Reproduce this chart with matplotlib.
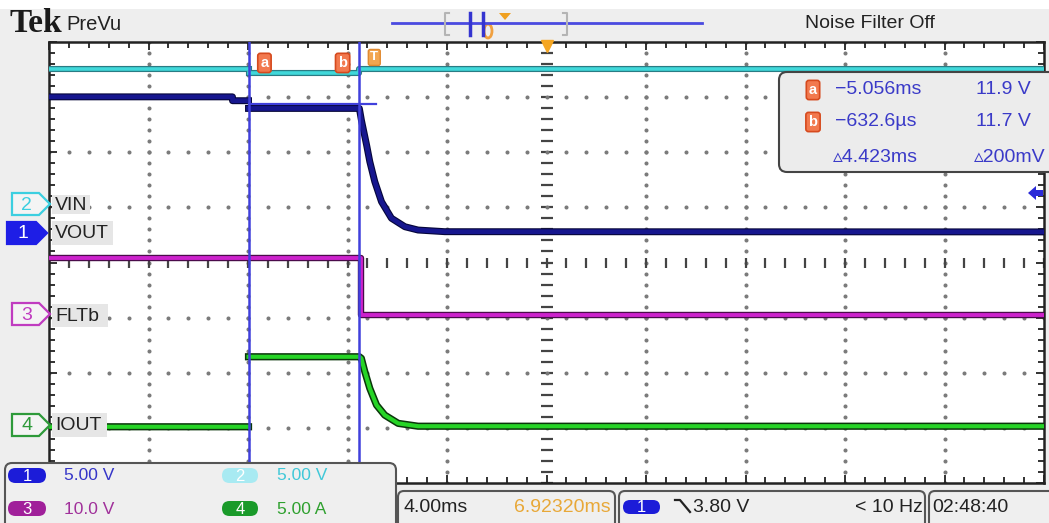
import matplotlib
matplotlib.use("Agg")
import matplotlib.pyplot as plt
import matplotlib.patheffects as pe
from matplotlib.patches import Polygon, FancyBboxPatch, Rectangle, Ellipse

W, H = 1049, 523
SANS = ['Liberation Sans', 'DejaVu Sans']
plt.rcParams['font.family'] = SANS

nan = float('nan')

# scope settings
t_per_div = 4.0        # ms/div
t_center = 6.9232      # ms, screen centre relative to trigger
cursor_a = -5.056      # ms
cursor_b = -0.6326     # ms
cursor_level = 11.7    # V on ch1

# volts (amps) per div and ground marker position in div from centre
vin_scale, vin_gnd = 5.0, 1.06
vout_scale, vout_gnd = 5.0, 0.535
flt_scale, flt_gnd = 10.0, -0.935
iout_scale, iout_gnd = 5.0, -2.95

# traces: time in ms, value in V or A (nan = gap in the record)
vin_t = [-13.1, -5.056, -5.056, -5.056, -0.63, -0.63, 26.95]
vin_v = [12.25, 12.25, nan, 11.9, 11.9, 12.25, 12.25]

vout_t = [-13.1, -5.7, -5.7, -5.056, -5.056, -5.056, -0.6, -0.52, -0.45, -0.31, -0.18,
          0.02, 0.29, 0.69, 1.23, 1.76, 2.84, 26.95]
vout_v = [12.35, 12.35, 12.0, 12.0, nan, 11.3, 11.3, 10.26, 9.5, 7.99, 6.47,
          4.66, 2.84, 1.34, 0.57, 0.27, 0.12, 0.1]

flt_t = [-13.1, -5.056, -5.056, -0.54, -0.54, 26.95]
flt_v = [10.2, 10.2, 10.1, 10.1, -0.2, -0.2]

iout_t = [-13.1, -5.056, -5.056, -5.056, -0.6, -0.52, -0.38, -0.18, 0.09, 0.42, 0.96, 1.76, 26.95]
iout_v = [-0.15, -0.15, nan, 6.2, 6.2, 6.06, 4.84, 3.33, 1.82, 0.91, 0.16, -0.1, -0.1]


def to_div(vals, scale, gnd):
    return [v / scale + gnd for v in vals]


def px_rect(x0, y0, x1, y1):
    return [x0 / W, 1 - y1 / H, (x1 - x0) / W, (y1 - y0) / H]


fig = plt.figure(figsize=(W / 100, H / 100), dpi=100, facecolor='#eeeeee')

# ---- graticule ----
ax = fig.add_axes(px_rect(49, 42, 1044, 483))
ax.set_facecolor('white')
x_lo = t_center - 5 * t_per_div
x_hi = t_center + 5 * t_per_div
ax.set_xlim(x_lo, x_hi)
ax.set_ylim(-4, 4)

major_x = [x_lo + k * t_per_div for k in range(11)]
minor_x = [x_lo + k * t_per_div / 5 for k in range(51)]
major_y = list(range(-4, 5))
minor_y = [-4 + k * 0.2 for k in range(41)]

for k in range(1, 10):
    if k == 5:
        ax.plot([major_x[k]] * len(minor_y), minor_y, ls='none', marker='_',
                ms=8, mew=1.6, color='#444444', zorder=1)
    else:
        ax.plot([major_x[k]] * len(minor_y), minor_y, ls='none', marker='o',
                ms=1.9, color='#7a7a7a', zorder=1)
for yv in major_y[1:-1]:
    if yv == 0:
        ax.plot(minor_x, [0] * len(minor_x), ls='none', marker='|',
                ms=7, mew=1.6, color='#444444', zorder=1)
    else:
        ax.plot(minor_x, [yv] * len(minor_x), ls='none', marker='o',
                ms=1.9, color='#7a7a7a', zorder=1)

ax.set_xticks(major_x)
ax.set_xticks(minor_x, minor=True)
ax.set_yticks(major_y)
ax.set_yticks(minor_y, minor=True)
ax.tick_params(which='both', direction='in', top=True, right=True,
               labelbottom=False, labelleft=False, color='#222222', width=1.3)
ax.tick_params(which='major', length=6)
ax.tick_params(which='minor', length=4)
for sp in ax.spines.values():
    sp.set_linewidth(1.8)
    sp.set_color('#222222')

# ---- waveforms ----
ax.plot(vin_t, to_div(vin_v, vin_scale, vin_gnd), color='#40d8da', lw=2.6, zorder=4,
        path_effects=[pe.Stroke(linewidth=4.4, foreground='#2a7c84'), pe.Normal()])
ax.plot(vout_t, to_div(vout_v, vout_scale, vout_gnd), color='#16168e', lw=3.4, zorder=4,
        path_effects=[pe.Stroke(linewidth=5.0, foreground='#06063a'), pe.Normal()])
ax.plot(flt_t, to_div(flt_v, flt_scale, flt_gnd), color='#cc22cc', lw=2.8, zorder=4,
        path_effects=[pe.Stroke(linewidth=4.6, foreground='#4a0c4a'), pe.Normal()])
ax.plot(iout_t, to_div(iout_v, iout_scale, iout_gnd), color='#26d426', lw=3.0, zorder=4,
        path_effects=[pe.Stroke(linewidth=5.2, foreground='#0a360a'), pe.Normal()])

# cursors
cur_col = '#4040dc'
ax.axvline(cursor_a, color=cur_col, lw=1.8, zorder=5)
ax.axvline(cursor_b, color=cur_col, lw=1.8, zorder=5)
lvl = cursor_level / vout_scale + vout_gnd
ax.plot([cursor_a, cursor_b + 0.72], [lvl, lvl], color=cur_col, lw=1.6, zorder=5)

badge = dict(boxstyle='round,pad=0.18', fc='#f2794e', ec='#d64a1e', lw=1.2)
ax.text(cursor_a + 0.64, 3.62, 'a', color='white', fontsize=10.5, fontweight='bold',
        ha='center', va='center', bbox=badge, zorder=6)
ax.text(cursor_b - 0.64, 3.62, 'b', color='white', fontsize=10.5, fontweight='bold',
        ha='center', va='center', bbox=badge, zorder=6)
ax.text(0.0, 3.72, 'T', color='white', fontsize=9.5, fontweight='bold', ha='center', va='center',
        bbox=dict(boxstyle='round,pad=0.15', fc='#f2a650', ec='#e08a30', lw=1), zorder=6)
ax.plot([t_center], [3.93], marker='v', ms=9, color='#f5a623', ls='none', zorder=6, clip_on=False)

# ---- screen chrome (pixel coordinates) ----
ov = fig.add_axes([0, 0, 1, 1], zorder=10)
ov.set_xlim(0, W)
ov.set_ylim(H, 0)
ov.axis('off')


def rbox(x0, y0, x1, y1, fc, ec='none', lw=1.2, r=0.0):
    ov.add_patch(FancyBboxPatch((x0, y0), x1 - x0, y1 - y0,
                                boxstyle=f'round,pad=0,rounding_size={r}',
                                fc=fc, ec=ec, lw=lw))


ov.add_patch(Rectangle((0, 0), W, 9, fc='white', ec='none'))

# header
ov.text(9, 23, 'Tek', family=['Liberation Serif', 'DejaVu Serif'], fontweight='bold',
        fontsize=24, color='#1a1a1a', va='center')
ov.text(66, 24, 'PreVu', fontsize=14.5, color='#222222', va='center')
ov.text(805, 24, 'Noise Filter Off', fontsize=14, color='#222222', va='center')

ov.plot([392, 702], [23, 23], color='#4a4ae0', lw=2)
ov.plot([449, 445, 445, 449], [13, 13, 35, 35], color='#b4b4b4', lw=1.5)
ov.plot([563, 567, 567, 563], [13, 13, 35, 35], color='#b4b4b4', lw=1.5)
ov.plot([470, 470], [13, 35], color='#3434d0', lw=2.5)
ov.plot([483, 483], [13, 35], color='#3434d0', lw=2.5)
ov.add_patch(Ellipse((488, 31), 8, 14, fc='none', ec='#f0a040', lw=2))
ov.add_patch(Polygon([(499, 13), (511, 13), (505, 20)], closed=True, fc='#f0a020', ec='none'))

# channel markers and labels
def ch_marker(x0, y0, x1, y1, color, num, filled):
    yc = (y0 + y1) / 2
    xm = x1 - 11
    ov.add_patch(Polygon([(x0, y0), (xm, y0), (x1, yc), (xm, y1), (x0, y1)], closed=True,
                         fc=color if filled else '#f4f4f4', ec=color, lw=1.6))
    ov.text((x0 + xm) / 2 + 1, yc + 1, num, color='white' if filled else color,
            fontsize=14, ha='center', va='center')


ch_marker(12, 193, 50, 215, '#3ccfe0', '2', False)
ch_marker(7, 222, 47, 244, '#1e1ee6', '1', True)
ch_marker(12, 303, 50, 325, '#c03cc0', '3', False)
ch_marker(12, 414, 50, 436, '#2e9a3a', '4', False)

for x1, y0, y1, name in [(90, 195, 214, 'VIN'), (113, 221, 245, 'VOUT'),
                         (108, 304, 327, 'FLTb'), (107, 413, 437, 'IOUT')]:
    ov.add_patch(Rectangle((52, y0), x1 - 52, y1 - y0, fc='#e6e6e6', ec='none'))
    ov.text(55, (y0 + y1) / 2 + 1, name, fontsize=14, color='#222222', va='center')

# trigger level arrow
ov.add_patch(Polygon([(1028, 193), (1036, 186), (1036, 190), (1043, 190),
                      (1043, 196), (1036, 196), (1036, 200)], closed=True,
                     fc='#2a2ad8', ec='none'))

# cursor readout
rbox(779, 72, 1062, 172, '#ececec', '#444444', 1.5, 8)
blue_txt = '#3a3ac8'
for yy, lab in [(90, 'a'), (122, 'b')]:
    ov.text(813, yy, lab, color='white', fontsize=10.5, fontweight='bold', ha='center',
            va='center', bbox=badge)
ov.text(835, 90, '\u22125.056ms', fontsize=14, color=blue_txt, va='center')
ov.text(1031, 90, '11.9 V', fontsize=14, color=blue_txt, va='center', ha='right')
ov.text(835, 122, '\u2212632.6\u00b5s', fontsize=14, color=blue_txt, va='center')
ov.text(1031, 122, '11.7 V', fontsize=14, color=blue_txt, va='center', ha='right')
ov.text(833, 157, '\u25b54.423ms', fontsize=14, color=blue_txt, va='center')
ov.text(1046, 157, '\u25b5200mV', fontsize=14, color=blue_txt, va='center', ha='right')

# channel readout box (bottom left)
rbox(5, 463, 396, 535, '#efefef', '#555555', 1.5, 7)


def pill(x0, y0, x1, y1, fc, num):
    rbox(x0, y0, x1, y1, fc, 'none', 1, (y1 - y0) / 2)
    ov.text((x0 + x1) / 2, (y0 + y1) / 2 + 1, num, color='white', fontsize=12,
            ha='center', va='center')


pill(8, 468, 46, 483, '#1c1cd8', '1')
pill(8, 501, 46, 516, '#a0209a', '3')
pill(222, 468, 258, 483, '#a8eaf2', '2')
pill(222, 501, 258, 516, '#1a9a2a', '4')
ov.text(64, 476, '5.00 V', fontsize=12.5, color='#3535c8', va='center')
ov.text(64, 509, '10.0 V', fontsize=12.5, color='#a0309a', va='center')
ov.text(277, 476, '5.00 V', fontsize=12.5, color='#40c8d8', va='center')
ov.text(277, 509, '5.00 A', fontsize=12.5, color='#2ea02e', va='center')

# timebase / trigger readouts (bottom right)
rbox(398, 491, 615, 535, '#efefef', '#555555', 1.5, 6)
rbox(619, 491, 925, 535, '#efefef', '#555555', 1.5, 6)
rbox(929, 491, 1062, 535, '#efefef', '#555555', 1.5, 6)
ov.text(404, 508, '4.00ms', fontsize=14, color='#222222', va='center')
ov.text(514, 508, '6.92320ms', fontsize=14, color='#e8a838', va='center')
pill(623, 500, 660, 514, '#1c1cd8', '1')
ov.plot([675, 680, 690], [500, 500, 512], color='#222222', lw=1.6)
ov.text(693, 508, '3.80 V', fontsize=14, color='#222222', va='center')
ov.text(923, 508, '< 10 Hz', fontsize=14, color='#222222', va='center', ha='right')
ov.text(932, 508, '02:48:40', fontsize=14, color='#222222', va='center')

fig.savefig('out.png', dpi=100, facecolor=fig.get_facecolor())
